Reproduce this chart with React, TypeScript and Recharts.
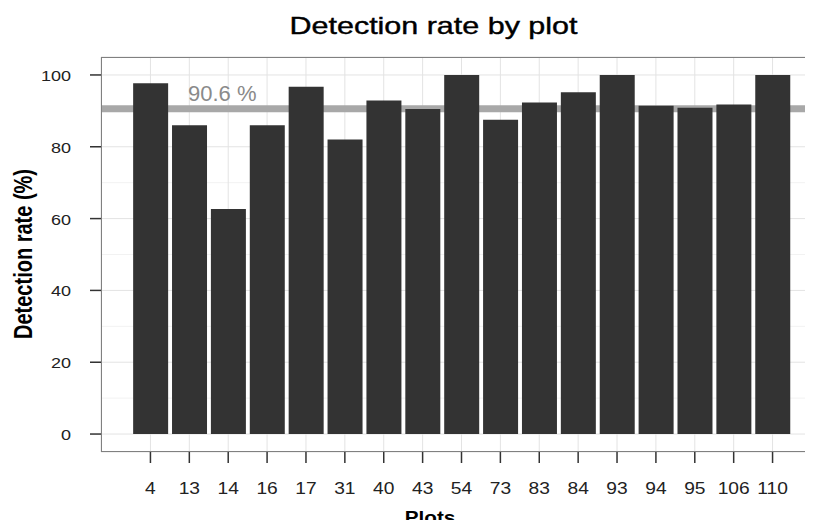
import React from "react";
import { BarChart, Bar, XAxis, YAxis, CartesianGrid, ReferenceLine } from "recharts";

const plots = ["4", "13", "14", "16", "17", "31", "40", "43", "54", "73", "83", "84", "93", "94", "95", "106", "110"];
const rates = [97.7, 86, 62.7, 86, 96.7, 82, 92.9, 90.5, 100, 87.5, 92.3, 95.2, 100, 91.4, 90.9, 91.8, 100];
const meanRate = 90.6;
const yTicks = [0, 20, 40, 60, 80, 100];
const yMinor = [10, 30, 50, 70, 90];

const data = plots.map((plot, i) => ({ plot, rate: rates[i] }));

const FONT = "'Liberation Sans', Arial, sans-serif";

const XTick = ({ x, y, payload }: any) => (
  <text
    x={0}
    y={0}
    dy="0.71em"
    transform={`translate(${x},${y}) scale(1.2,1)`}
    textAnchor="middle"
    fontSize={16}
    fontFamily={FONT}
    fill="#222"
  >
    {payload.value}
  </text>
);

const YTick = ({ x, y, payload }: any) => (
  <text
    x={0}
    y={0}
    dy="0.4em"
    transform={`translate(${x},${y}) scale(1.2,1)`}
    textAnchor="end"
    fontSize={15}
    fontFamily={FONT}
    fill="#222"
  >
    {payload.value}
  </text>
);

const MeanLabel = (props: any) => {
  const vb = props.viewBox || {};
  return (
    <text x={vb.x + 87} y={vb.y - 8} fontSize={22} fontFamily={FONT} fill="#8a8a8a">
      {meanRate} %
    </text>
  );
};

export default function App() {
  return (
    <div style={{ position: "relative", margin: -8, width: 813, height: 528, overflow: "hidden", background: "#fff" }}>
      <BarChart
        width={830}
        height={528}
        data={data}
        margin={{ top: 57, right: 8, bottom: 0, left: 0 }}
        barCategoryGap="5.5%"
      >
        <CartesianGrid vertical={false} horizontalValues={yMinor} stroke="#f2f2f2" />
        <CartesianGrid stroke="#e3e3e3" />
        <XAxis
          dataKey="plot"
          height={76}
          padding={{ left: 30, right: 30 }}
          axisLine={false}
          tickLine={{ stroke: "#333", strokeWidth: 1.5 }}
          tickSize={11}
          tickMargin={20}
          tick={<XTick />}
          interval={0}
        />
        <YAxis
          width={101}
          domain={[-5, 105]}
          ticks={yTicks}
          axisLine={false}
          tickLine={{ stroke: "#333", strokeWidth: 1.5 }}
          tickSize={11}
          tickMargin={19}
          tick={<YTick />}
        />
        <ReferenceLine y={meanRate} stroke="#a8a8a8" strokeWidth={7} zIndex={100} label={<MeanLabel />} />
        <Bar dataKey="rate" fill="#333333" isAnimationActive={false} />
      </BarChart>
      <svg
        width={813}
        height={528}
        style={{ position: "absolute", left: 0, top: 0, pointerEvents: "none" }}
      >
        <rect x={101.5} y={57.5} width={720} height={394} fill="none" stroke="#808080" strokeWidth={1} />
        <text
          transform="translate(433.5,34) scale(1.27,1)"
          textAnchor="middle"
          fontSize={24}
          fontFamily={FONT}
          fill="#000"
          stroke="#000"
          strokeWidth={0.4}
        >
          Detection rate by plot
        </text>
        <text
          transform="translate(430,524) scale(1.15,1)"
          textAnchor="middle"
          fontSize={18}
          fontWeight="bold"
          fontFamily={FONT}
          fill="#000"
        >
          Plots
        </text>
        <text
          transform="translate(32,254) scale(1.25,1) rotate(-90)"
          textAnchor="middle"
          fontSize={20}
          fontWeight="bold"
          fontFamily={FONT}
          fill="#000"
        >
          Detection rate (%)
        </text>
      </svg>
    </div>
  );
}
